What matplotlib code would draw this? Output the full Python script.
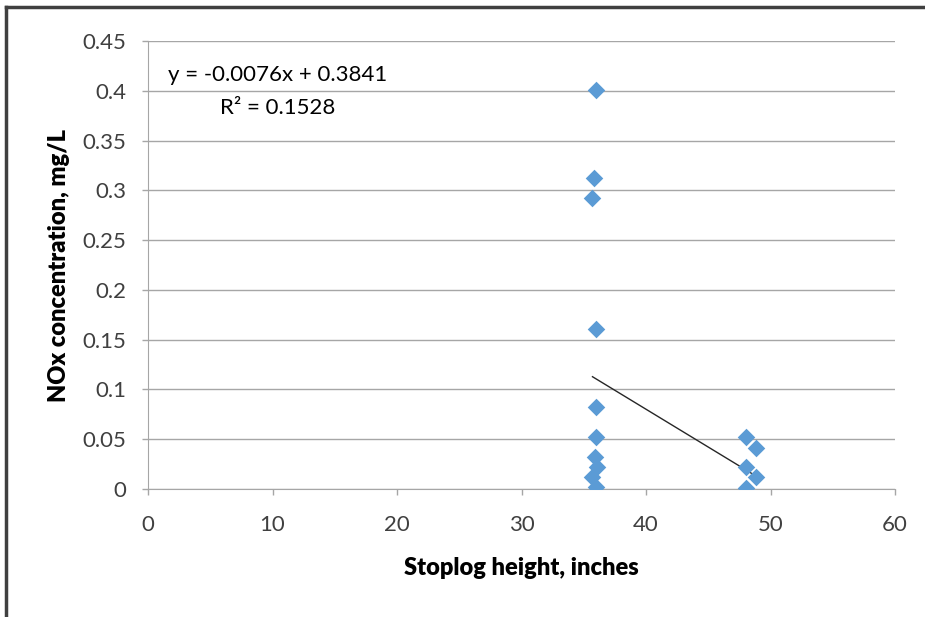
import numpy as np
import matplotlib
matplotlib.use("Agg")
from matplotlib import pyplot as plt
from matplotlib.lines import Line2D

plt.rcParams['font.family'] = ['Lato', 'DejaVu Sans']

# stoplog height (inches) and NOx concentration (mg/L)
height = [36, 35.8, 35.7, 36, 36, 36, 35.9, 36.1, 35.7, 36,
          48, 48.8, 48, 48.8, 48]
nox = [0.401, 0.312, 0.292, 0.161, 0.082, 0.052, 0.032, 0.022, 0.012, 0.002,
       0.052, 0.041, 0.022, 0.012, 0.001]

# linear trend shown in the chart
slope = -0.0076
intercept = 0.3841
r2 = 0.1528

fig = plt.figure(figsize=(9.25, 6.17), dpi=100)
ax = fig.add_axes([0.16, 0.2075, 0.8076, 0.726])

ax.scatter(height, nox, marker='D', s=80, color='#5B9BD5', zorder=3, linewidths=0)

xs = np.array([min(height), max(height)])
ax.plot(xs, slope * xs + intercept, color='#262626', lw=1, zorder=2)

ax.set_xlim(0, 60)
ax.set_ylim(0, 0.45)
ax.set_xticks(np.arange(0, 61, 10))
ax.set_yticks(np.arange(0, 0.451, 0.05))
ax.set_yticklabels(['0', '0.05', '0.1', '0.15', '0.2', '0.25', '0.3', '0.35', '0.4', '0.45'])
ax.grid(axis='y', color='#A6A6A6', lw=1)
ax.set_axisbelow(True)
for s in ['top', 'right']:
    ax.spines[s].set_visible(False)
for s in ['left', 'bottom']:
    ax.spines[s].set_color('#A6A6A6')
ax.tick_params(axis='both', colors='#A6A6A6', labelcolor='#404040', labelsize=16,
               length=4.5, width=1, direction='out')
ax.tick_params(axis='x', pad=14)
ax.tick_params(axis='y', pad=11)

ax.set_xlabel('Stoplog height, inches', fontsize=17, fontweight='heavy', labelpad=16)
ax.set_ylabel('NOx concentration, mg/L', fontsize=17, fontweight='heavy', labelpad=9)

ax.text(10.4, 0.416, 'y = -0.0076x + 0.3841', fontsize=16, ha='center', va='center')
ax.text(10.4, 0.383, 'R² = 0.1528', fontsize=16, ha='center', va='center')

# outer border (top and left)
fig.add_artist(Line2D([0.006, 1], [0.989, 0.989], color='#404040', lw=2.5))
fig.add_artist(Line2D([0.007, 0.007], [0, 0.989], color='#404040', lw=2.5))

fig.savefig('out.png', dpi=100)
